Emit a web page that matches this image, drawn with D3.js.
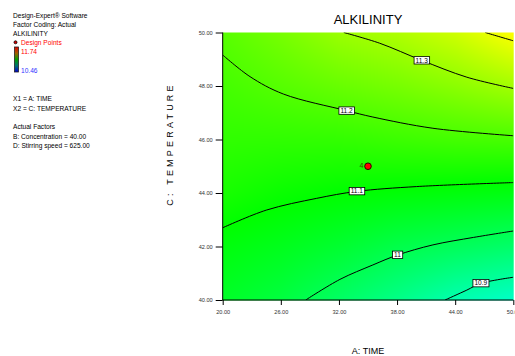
<!DOCTYPE html>
<html><head><meta charset="utf-8">
<script src="https://cdn.jsdelivr.net/npm/d3@7"></script>
<style>
body{margin:0;background:#fff;}
svg{display:block;font-family:"Liberation Sans",Arial,sans-serif;}
</style></head>
<body>
<svg id="c" width="515" height="356"></svg>
<script>
// ---- data ----
const xTicks = [20, 26, 32, 38, 44, 50];
const yTicks = [40, 42, 44, 46, 48, 50];
// estimated response values on the tick grid (rows: y = 40..50, cols: x = 20..50)
const gridZ = [
  [11.05, 11.02, 10.975, 10.93, 10.88, 10.85],
  [11.085, 11.065, 11.04, 11.008, 10.988, 10.968],
  [11.13, 11.112, 11.10, 11.092, 11.085, 11.078],
  [11.16, 11.16, 11.163, 11.175, 11.185, 11.19],
  [11.185, 11.208, 11.23, 11.25, 11.275, 11.305],
  [11.21, 11.25, 11.295, 11.32, 11.36, 11.42]
];
const contour114 = [[47.1,50],[48.5,49.85],[50,49.69]];
const contour113 = [[32.5,50],[36.2,49.6],[40.54,48.96],[45.2,48.33],[50,47.91]];
const contour112 = [[20,49.16],[22.82,48.35],[26.26,47.70],[32.78,47.08],[35.5,46.84],[41.7,46.42],[50,46.14]];
const contour111 = [[20,42.70],[24.5,43.36],[29.7,43.80],[33.84,44.06],[40,44.24],[50,44.39]];
const contour110 = [[28.57,40],[32.1,40.77],[35.5,41.31],[38.04,41.68],[41.7,42.06],[45.9,42.34],[50,42.58]];
const contour109 = [[42.95,40],[45.2,40.37],[46.64,40.62],[50,40.85]];
const contourLabels = [
  {t:"11.3", x:40.54, y:48.96},
  {t:"11.2", x:32.78, y:47.08},
  {t:"11.1", x:33.84, y:44.07},
  {t:"11",   x:38.04, y:41.69},
  {t:"10.9", x:46.64, y:40.63}
];
const designPoints = [{x:35, y:45, n:"4"}];
const zMin = 10.46, zMax = 11.74;
const legendLines = ["Design-Expert® Software","Factor Coding: Actual","ALKILINITY"];
const factorLines = ["X1 = A: TIME","X2 = C: TEMPERATURE"];
const actualLines = ["Actual Factors","B: Concentration = 40.00","D: Stirring speed = 625.00"];

// ---- layout ----
const L = 222.7, R = 513.3, T = 32.5, B = 300;
const svg = d3.select("#c");
const x = d3.scaleLinear().domain([20,50]).range([L,R]);
const y = d3.scaleLinear().domain([40,50]).range([B,T]);
const zStep = (zMax - zMin) / 4;
const color = d3.scaleLinear()
  .domain([zMin, zMin+zStep, zMin+2*zStep, zMin+3*zStep, zMax])
  .range(["#0000ff","#00ffff","#00ff00","#ffff00","#ff0000"]).clamp(true);

// ---- colour field (bilinear shading between grid values) ----
function zAt(dx, dy){
  const fx = (dx - xTicks[0]) / (xTicks[1]-xTicks[0]);
  const fy = (dy - yTicks[0]) / (yTicks[1]-yTicks[0]);
  const i = Math.max(0, Math.min(xTicks.length-2, Math.floor(fx)));
  const j = Math.max(0, Math.min(yTicks.length-2, Math.floor(fy)));
  const u = fx - i, v = fy - j;
  return gridZ[j][i]*(1-u)*(1-v) + gridZ[j][i+1]*u*(1-v) + gridZ[j+1][i]*(1-u)*v + gridZ[j+1][i+1]*u*v;
}
const W = Math.ceil(R-L), H = Math.ceil(B-T);
const cv = document.createElement("canvas");
cv.width = W; cv.height = H;
const ctx = cv.getContext("2d");
const img = ctx.createImageData(W,H);
for (let py=0; py<H; py++){
  for (let px=0; px<W; px++){
    const c = d3.rgb(color(zAt(x.invert(L+px+0.5), y.invert(T+py+0.5))));
    const k = (py*W+px)*4;
    img.data[k]=c.r; img.data[k+1]=c.g; img.data[k+2]=c.b; img.data[k+3]=255;
  }
}
ctx.putImageData(img,0,0);
svg.append("image").attr("x",L).attr("y",T).attr("width",W).attr("height",H)
  .attr("preserveAspectRatio","none").attr("href", cv.toDataURL());

// ---- contour lines ----
svg.append("clipPath").attr("id","clip").append("rect")
  .attr("x",L).attr("y",T).attr("width",R-L).attr("height",B-T);
const line = d3.line().x(d=>x(d[0])).y(d=>y(d[1])).curve(d3.curveCatmullRom.alpha(0.5));
const gC = svg.append("g").attr("clip-path","url(#clip)");
[contour114, contour113, contour112, contour111, contour110, contour109].forEach(c=>{
  gC.append("path").attr("d", line(c)).attr("fill","none").attr("stroke","#000").attr("stroke-width",1);
});
// labels
contourLabels.forEach(l=>{
  const g = svg.append("g").attr("transform",`translate(${x(l.x)},${y(l.y)})`);
  const t = g.append("text").attr("text-anchor","middle").attr("dy","0.35em")
    .attr("font-size",6.5).attr("fill","#000").text(l.t);
  const bb = t.node().getBBox();
  g.insert("rect","text").attr("x",bb.x-1.5).attr("y",-3.7).attr("width",bb.width+3).attr("height",7.4)
    .attr("fill","#fff").attr("stroke","#000").attr("stroke-width",0.8);
});

// ---- design point ----
designPoints.forEach(p=>{
  svg.append("circle").attr("cx",x(p.x)).attr("cy",y(p.y)).attr("r",3.3)
    .attr("fill","#ff0000").attr("stroke","#300").attr("stroke-width",1);
  svg.append("text").attr("x",x(p.x)-4.5).attr("y",y(p.y)+2.2).attr("text-anchor","end")
    .attr("font-size",7).attr("fill","#335500").text(p.n);
});

// ---- axes ----
const fmt = d3.format(".2f");
const ax = svg.append("g").attr("transform",`translate(0,${B})`)
  .call(d3.axisBottom(x).tickValues(xTicks).tickFormat(fmt).tickSize(5).tickSizeOuter(0).tickPadding(5));
const ay = svg.append("g").attr("transform",`translate(${L},0)`)
  .call(d3.axisLeft(y).tickValues(yTicks).tickFormat(fmt).tickSize(7).tickSizeOuter(0).tickPadding(3));
[ax, ay].forEach(a=>{
  a.selectAll("text").attr("font-size",5.6).attr("fill","#333").attr("font-family","'Liberation Sans',Arial,sans-serif");
  a.selectAll("line").attr("stroke","#000");
  a.select(".domain").attr("stroke","#000");
});
ay.select(".domain").attr("d",`M0,${B}V${T}`);
ax.select(".domain").attr("d",`M${L},0H${R}`);

// ---- titles ----
svg.append("text").attr("x",368).attr("y",24).attr("text-anchor","middle")
  .attr("font-size",13).attr("fill","#000").text("ALKILINITY");
svg.append("text").attr("x",368).attr("y",354).attr("text-anchor","middle")
  .attr("font-size",9).attr("fill","#000").text("A: TIME");
svg.append("text").attr("transform","translate(173,144) rotate(-90)").attr("text-anchor","middle")
  .attr("font-size",9).attr("letter-spacing",3.2).attr("fill","#000").text("C: TEMPERATURE");

// ---- left legend panel ----
const lp = svg.append("g").attr("font-size",6.6).attr("fill","#000");
legendLines.forEach((s,i)=> lp.append("text").attr("x",13).attr("y",17.5+i*9).text(s));
lp.append("circle").attr("cx",15.5).attr("cy",42.3).attr("r",1.5).attr("fill","#d00").attr("stroke","#000").attr("stroke-width",0.8);
lp.append("text").attr("x",21).attr("y",44.6).attr("fill","#ff0000").text("Design Points");
const grad = svg.append("defs").append("linearGradient").attr("id","cb").attr("x1",0).attr("y1",0).attr("x2",0).attr("y2",1);
[["0%","#e00000"],["25%","#a06000"],["50%","#00a000"],["75%","#007070"],["100%","#0000d0"]]
  .forEach(s=>grad.append("stop").attr("offset",s[0]).attr("stop-color",s[1]));
lp.append("rect").attr("x",14.5).attr("y",47).attr("width",4).attr("height",25)
  .attr("fill","url(#cb)").attr("stroke","#222").attr("stroke-width",0.8);
lp.append("text").attr("x",21).attr("y",54).attr("fill","#ff0000").text(zMax.toFixed(2));
lp.append("text").attr("x",21).attr("y",72.5).attr("fill","#3333ff").text(zMin.toFixed(2));
factorLines.forEach((s,i)=> lp.append("text").attr("x",13).attr("y",101+i*10).text(s));
actualLines.forEach((s,i)=> lp.append("text").attr("x",13).attr("y",129+i*9.5).text(s));
</script>
</body></html>
